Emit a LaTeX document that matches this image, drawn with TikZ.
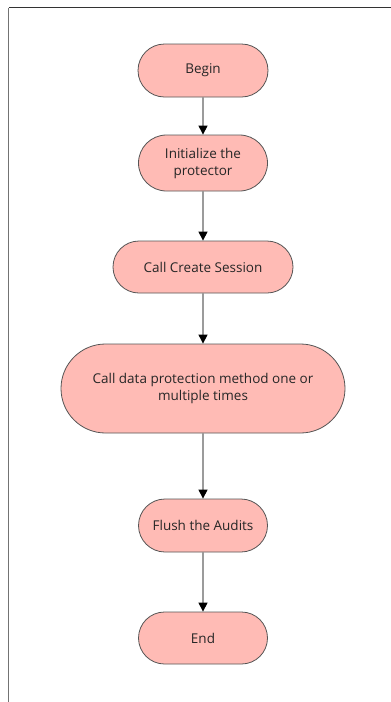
\documentclass[tikz,border=0pt]{standalone}
\usepackage{fontspec}
\setmainfont{Open Sans}
\usetikzlibrary{shapes.misc,arrows.meta}
\definecolor{boxfill}{HTML}{FFBBB5}
\definecolor{boxline}{HTML}{555555}
\definecolor{arrline}{HTML}{666666}
\begin{document}
\begin{tikzpicture}[x=1pt,y=-1pt,
  term/.style={rounded rectangle, draw=boxline, line width=0.8pt, fill=boxfill,
    inner sep=0pt, align=center, font=\fontsize{13.5}{17}\selectfont, text=black!85},
  flow/.style={draw=arrline, line width=1.1pt, -{Triangle[length=9pt,width=9pt,color=black]}}]
\useasboundingbox (0,0) rectangle (391,702);
\fill[white] (0,0) rectangle (391,702);
\draw[black!80, line width=1pt] (391,7.5) -- (8.5,7.5);
\draw[black!55, line width=1.2pt] (8.5,7.5) -- (8.5,702);
\node[term, minimum width=130pt, minimum height=53pt] (begin) at (203,70.5) {Begin};
\node[term, minimum width=129pt, minimum height=56pt] (init) at (203,163) {Initialize the\\protector};
\node[term, minimum width=180pt, minimum height=52pt] (sess) at (203,267) {Call Create Session};
\node[term, minimum width=284pt, minimum height=89pt] (prot) at (203,388.5) {Call data protection method one or\\multiple times};
\node[term, minimum width=129pt, minimum height=53pt] (flush) at (203,525.5) {Flush the Audits};
\node[term, minimum width=129pt, minimum height=52pt] (end) at (203,638) {End};
\draw[flow] (begin) -- (init);
\draw[flow] (init) -- (sess);
\draw[flow] (sess) -- (prot);
\draw[flow] (prot) -- (flush);
\draw[flow] (flush) -- (end);
\end{tikzpicture}
\end{document}
